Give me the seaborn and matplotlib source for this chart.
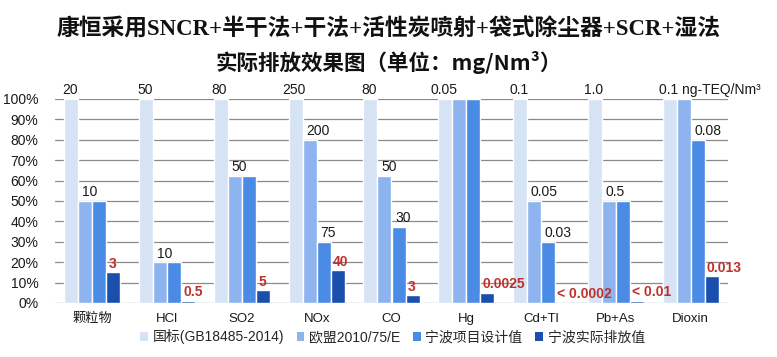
import matplotlib
matplotlib.use("Agg")
import matplotlib.pyplot as plt
from matplotlib.patches import Patch
import seaborn as sns
import pandas as pd

categories = ['颗粒物', 'HCl', 'SO2', 'NOx', 'CO', 'Hg', 'Cd+Tl', 'Pb+As', 'Dioxin']
series_names = ['国标(GB18485-2014)', '欧盟2010/75/E', '宁波项目设计值', '宁波实际排放值']
national = [20, 50, 80, 250, 80, 0.05, 0.1, 1.0, 0.1]
eu = [10, 10, 50, 200, 50, 0.05, 0.05, 0.5, 0.1]
design = [10, 10, 50, 75, 30, 0.05, 0.03, 0.5, 0.08]
actual = [3, 0.5, 5, 40, 3, 0.0025, 0.0002, 0.01, 0.013]

national_labels = ['20', '50', '80', '250', '80', '0.05', '0.1', '1.0', '0.1 ng-TEQ/Nm³']
eu_labels = ['10', '10', '50', '200', '50', '', '0.05', '0.5', '']
design_labels = ['', '', '', '75', '30', '', '0.03', '', '0.08']
actual_labels = ['3', '0.5', '5', '40', '3', '0.0025', '< 0.0002', '< 0.01', '0.013']

colors = ['#D5E3F5', '#8DB4EE', '#4A8BE6', '#1A4FAE']

sns.set_style('white')
FONT = ['Liberation Sans', 'Noto Sans CJK SC', 'DejaVu Sans']
plt.rcParams['font.family'] = FONT

rows = []
for vals, name in zip([national, eu, design, actual], series_names):
    for c, v, base in zip(categories, vals, national):
        rows.append({'category': c, 'series': name, 'pct': v / base * 100})
df = pd.DataFrame(rows)

fig = plt.figure(figsize=(7.77, 3.57), dpi=100)
ax = fig.add_axes([55 / 777, 1 - 303 / 357, (728 - 55) / 777, (303 - 99) / 357])

sns.barplot(data=df, x='category', y='pct', hue='series', palette=colors,
            order=categories, hue_order=series_names, width=0.75,
            saturation=1, legend=False, ax=ax)

ax.set_ylim(0, 100)
ax.set_xlim(-0.5, len(categories) - 0.5)
ax.set_yticks(range(0, 101, 10))
ax.set_yticklabels([f'{t}%' for t in range(0, 101, 10)])
ax.set_xlabel('')
ax.set_ylabel('')
ax.yaxis.grid(True, color='#8a8a8a', lw=0.9)
ax.set_axisbelow(True)
for s in ax.spines.values():
    s.set_visible(False)
ax.tick_params(axis='y', length=0, pad=12, labelsize=10, labelcolor='#1a1a1a')
ax.tick_params(axis='x', length=0, pad=7, labelsize=9.5, labelcolor='#1a1a1a')

label_sets = [national_labels, eu_labels, design_labels, actual_labels]
for k, (cont, labels) in enumerate(zip(ax.containers, label_sets)):
    for bar, lab in zip(cont, labels):
        if not lab:
            continue
        x = bar.get_x()
        w = bar.get_width()
        h = bar.get_height()
        if k == 0:
            if 'ng' in lab:
                ax.text(x - 0.05, h + 0.8, lab, ha='left', va='bottom', fontsize=10,
                        color='#1a1a1a', clip_on=False)
            else:
                ax.text(x + w * 0.4, h + 0.8, lab, ha='center', va='bottom', fontsize=10,
                        color='#1a1a1a', clip_on=False)
        elif k == 3:
            ax.text(x + w * 0.15, h + 0.8, lab, ha='left', va='bottom', fontsize=10,
                    color='#C0302B', fontweight='bold', clip_on=False)
        else:
            ax.text(x + w * 0.25, h + 0.8, lab, ha='left', va='bottom', fontsize=10,
                    color='#1a1a1a', clip_on=False)

fig.text(0.5, 1 - 30 / 357, '康恒采用SNCR+半干法+干法+活性炭喷射+袋式除尘器+SCR+湿法',
         ha='center', va='center', fontsize=16.4, fontweight='bold',
         family=['Liberation Serif', 'Noto Sans CJK SC'], color='#111111')
fig.text(0.5, 1 - 62 / 357, '实际排放效果图（单位：mg/Nm³）',
         ha='center', va='center', fontsize=15.5, fontweight='bold',
         family=['Noto Sans CJK SC', 'DejaVu Sans'], color='#111111')

handles = [Patch(facecolor=c, edgecolor='none') for c in colors]
fig.legend(handles, series_names, loc='center', bbox_to_anchor=(0.505, 1 - 337 / 357),
           ncol=4, frameon=False, fontsize=10, handlelength=0.55, handleheight=0.55,
           handletextpad=0.35, columnspacing=0.9)

fig.savefig('out.png', dpi=100)
